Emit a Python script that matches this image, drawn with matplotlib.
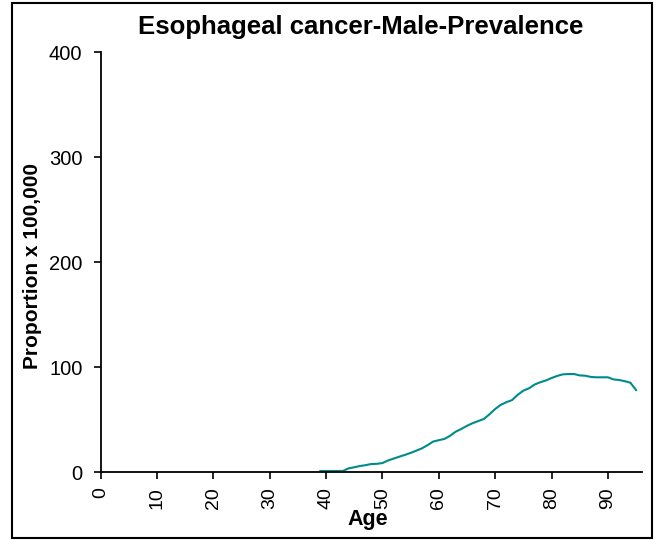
import matplotlib
matplotlib.use("Agg")
import matplotlib.pyplot as plt
from matplotlib.patches import Rectangle

# prevalence per 100,000 by single year of age
ages = list(range(39, 96))
prevalence = [
    1.0, 1.0, 1.0, 1.0, 1.0, 3.5, 4.5, 5.7, 6.5, 7.6,      # 39-48
    7.8, 8.5, 11.0, 12.8, 14.6, 16.3, 18.2, 20.3, 22.5, 25.5,  # 49-58
    29.0, 30.3, 31.5, 34.5, 38.4, 41.0, 44.0, 46.5, 48.5, 50.5,  # 59-68
    55.0, 60.0, 64.0, 66.5, 68.5, 73.5, 77.5, 79.7, 83.3, 85.5,  # 69-78
    87.2, 89.5, 91.5, 93.0, 93.3, 93.3, 92.0, 91.7, 90.5, 90.2,  # 79-88
    90.2, 90.2, 88.2, 87.6, 86.5, 85.0, 78.0,                    # 89-95
]
x_ticks = list(range(0, 100, 10))
y_ticks = [0, 100, 200, 300, 400]

title = "Esophageal cancer-Male-Prevalence"
x_label = "Age"
y_label = "Proportion x 100,000"

plt.rcParams["font.family"] = ["Liberation Sans", "DejaVu Sans"]

fig = plt.figure(figsize=(6.63, 5.40), dpi=100)
ax = fig.add_axes([0.1516, 0.1259, 0.8163, 0.7778])

ax.plot(ages, prevalence, color="#008b8b", linewidth=1.5)

ax.set_xlim(0, 96)
ax.set_ylim(0, 400)
ax.set_xticks(x_ticks)
ax.set_yticks(y_ticks)
ax.tick_params(axis="x", labelrotation=90, labelsize=14, length=5, width=1.2, pad=6)
ax.tick_params(axis="y", labelsize=14.5, length=5, width=1.2, pad=8)
for side in ("top", "right"):
    ax.spines[side].set_visible(False)
for side in ("left", "bottom"):
    ax.spines[side].set_linewidth(1.3)

fig.text(361 / 663, 1 - 27 / 540, title, ha="center", va="center",
         fontsize=18.5, fontweight="bold")
fig.text(368 / 663, 1 - 520 / 540, x_label, ha="center", va="center",
         fontsize=15.5, fontweight="bold")
fig.text(33 / 663, 1 - 266 / 540, y_label, ha="center", va="center",
         rotation=90, fontsize=15, fontweight="bold")

# frame round the whole chart
fig.patches.append(Rectangle((12 / 663, 2 / 540), 640 / 663, 535 / 540,
                             transform=fig.transFigure, fill=False,
                             edgecolor="black", linewidth=1.5))

fig.savefig("out.png", dpi=100)
